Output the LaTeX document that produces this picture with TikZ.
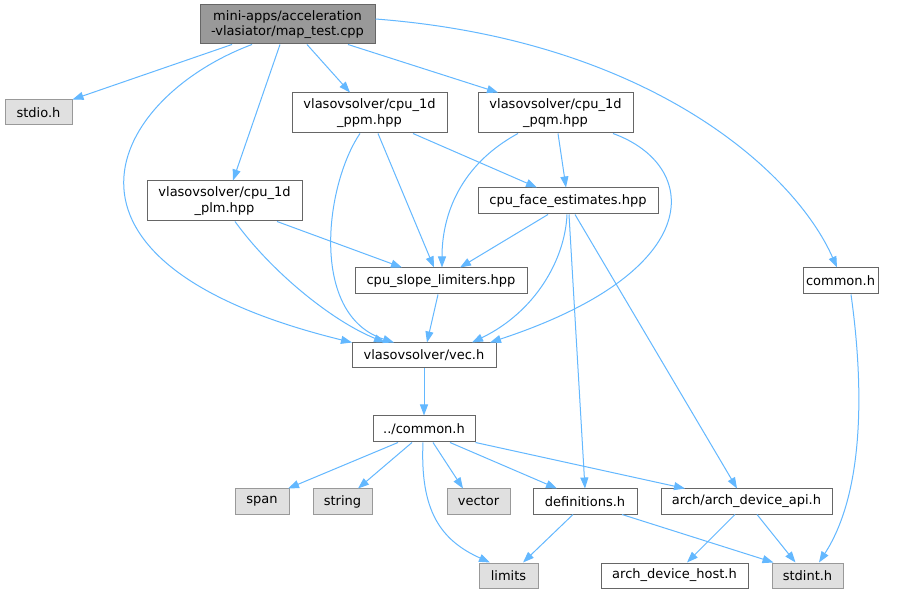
\documentclass[tikz,border=0pt]{standalone}
\usepackage{fontspec}
\setmainfont{DejaVu Sans}
\usetikzlibrary{arrows.meta}
\definecolor{edgeblue}{HTML}{63B8FF}
\definecolor{rootfill}{HTML}{999999}
\definecolor{darkborder}{HTML}{666666}
\definecolor{extfill}{HTML}{E0E0E0}
\definecolor{extborder}{HTML}{999999}
\begin{document}
\begin{tikzpicture}[x=1pt,y=-1pt,
  box/.style={draw=darkborder, fill=white, line width=1pt, inner sep=0pt, align=center, font=\fontsize{13}{15.5}\selectfont},
  rootbox/.style={box, fill=rootfill},
  extbox/.style={box, draw=extborder, fill=extfill},
  edge/.style={draw=edgeblue, line width=1pt, -{Triangle[length=11pt,width=8pt]}}]
\fill[white] (0,0) rectangle (900,593);
\useasboundingbox (0,0) rectangle (900,593);

% nodes
\node[rootbox, minimum width=175, minimum height=39] (root) at (287.5,24.5) {mini-apps/acceleration\\-vlasiator/map\_test.cpp};
\node[extbox, minimum width=67, minimum height=25] (stdio) at (38.5,112.5) {stdio.h};
\node[box, minimum width=155, minimum height=40] (ppm) at (369.5,113) {vlasovsolver/cpu\_1d\\\_ppm.hpp};
\node[box, minimum width=155, minimum height=40] (pqm) at (555.5,113) {vlasovsolver/cpu\_1d\\\_pqm.hpp};
\node[box, minimum width=155, minimum height=40] (plm) at (224.5,201) {vlasovsolver/cpu\_1d\\\_plm.hpp};
\node[box, minimum width=180, minimum height=26] (face) at (568,201) {cpu\_face\_estimates.hpp};
\node[box, minimum width=172, minimum height=26] (slope) at (441,281) {cpu\_slope\_limiters.hpp};
\node[box, minimum width=75, minimum height=26] (common) at (840.5,281) {common.h};
\node[box, minimum width=144, minimum height=25] (vec) at (424,355.5) {vlasovsolver/vec.h};
\node[box, minimum width=102, minimum height=26] (dc) at (424,429) {../common.h};
\node[extbox, minimum width=54, minimum height=25] (span) at (262,501.5) {span};
\node[extbox, minimum width=59, minimum height=25] (string) at (342.5,501.5) {string};
\node[extbox, minimum width=63, minimum height=25] (vector) at (478.5,501.5) {vector};
\node[box, minimum width=104, minimum height=25] (defs) at (585,501.5) {definitions.h};
\node[box, minimum width=171, minimum height=25] (api) at (746.5,501.5) {arch/arch\_device\_api.h};
\node[extbox, minimum width=59, minimum height=25] (limits) at (508.5,575.5) {limits};
\node[box, minimum width=147, minimum height=25] (host) at (674.5,575.5) {arch\_device\_host.h};
\node[extbox, minimum width=71, minimum height=25] (stdint) at (807.5,575.5) {stdint.h};

% edges
\draw[edge] ([xshift=-55.5]root.south) -- ([xshift=34]stdio.north);
\draw[edge] ([xshift=-35.5]root.south) .. controls (112,97) and (20,261) .. ([xshift=-72]vec.north);
\draw[edge] ([xshift=-7.5]root.south) -- ([xshift=8.5]plm.north);
\draw[edge] ([xshift=19.5]root.south) -- ([xshift=-19.5]ppm.north);
\draw[edge] ([xshift=60.5]root.south) -- ([xshift=-57.5]pqm.north);
\draw[edge] ([yshift=5.5]root.east) .. controls (650,40) and (795,172) .. ([xshift=-3.5]common.north);
\draw[edge] ([xshift=-9.5]ppm.south) .. controls (325,185) and (309,315) .. ([xshift=-30]vec.north);
\draw[edge] ([xshift=8.5]ppm.south) -- ([xshift=-7]slope.north);
\draw[edge] ([xshift=43.5]ppm.south) -- ([xshift=-31]face.north);
\draw[edge] ([xshift=-37.5]pqm.south) .. controls (460,165) and (442,215) .. ([xshift=1]slope.north);
\draw[edge] ([xshift=2.5]pqm.south) -- ([xshift=-2]face.north);
\draw[edge] ([xshift=57.5]pqm.south) .. controls (700,165) and (710,270) .. ([xshift=66]vec.north);
\draw[edge] ([xshift=10.5]plm.south) .. controls (270,270) and (330,320) .. ([xshift=-39]vec.north);
\draw[edge] ([xshift=52.5]plm.south) -- ([xshift=-39]slope.north);
\draw[edge] ([xshift=-20]face.south) -- ([xshift=19]slope.north);
\draw[edge] ([xshift=-1]face.south) .. controls (565,260) and (535,312) .. ([xshift=48]vec.north);
\draw[edge] ([xshift=1]face.south) -- (defs.north);
\draw[edge] ([xshift=7]face.south) -- ([xshift=-9.5]api.north);
\draw[edge] ([xshift=-3]slope.south) -- ([xshift=3]vec.north);
\draw[edge] ([xshift=10.5]common.south) .. controls (863,380) and (866,490) .. ([xshift=11.5]stdint.north);
\draw[edge] (vec.south) -- (dc.north);
\draw[edge] ([xshift=-26]dc.south) -- ([xshift=26]span.north);
\draw[edge] ([xshift=-12]dc.south) -- ([xshift=15.5]string.north);
\draw[edge] ([xshift=-1]dc.south) .. controls (420,510) and (440,540) .. ([xshift=-18.5]limits.north);
\draw[edge] ([xshift=9]dc.south) -- ([xshift=-15.5]vector.north);
\draw[edge] ([xshift=26]dc.south) -- ([xshift=-28]defs.north);
\draw[edge] (dc.south east) -- ([xshift=-61.5]api.north);
\draw[edge] ([xshift=-12]defs.south) -- ([xshift=14.5]limits.north);
\draw[edge] ([xshift=37]defs.south) -- ([xshift=-34]stdint.north);
\draw[edge] ([xshift=-11.5]api.south) -- ([xshift=12.5]host.north);
\draw[edge] ([xshift=10.5]api.south) -- ([xshift=-12]stdint.north);
\end{tikzpicture}
\end{document}
